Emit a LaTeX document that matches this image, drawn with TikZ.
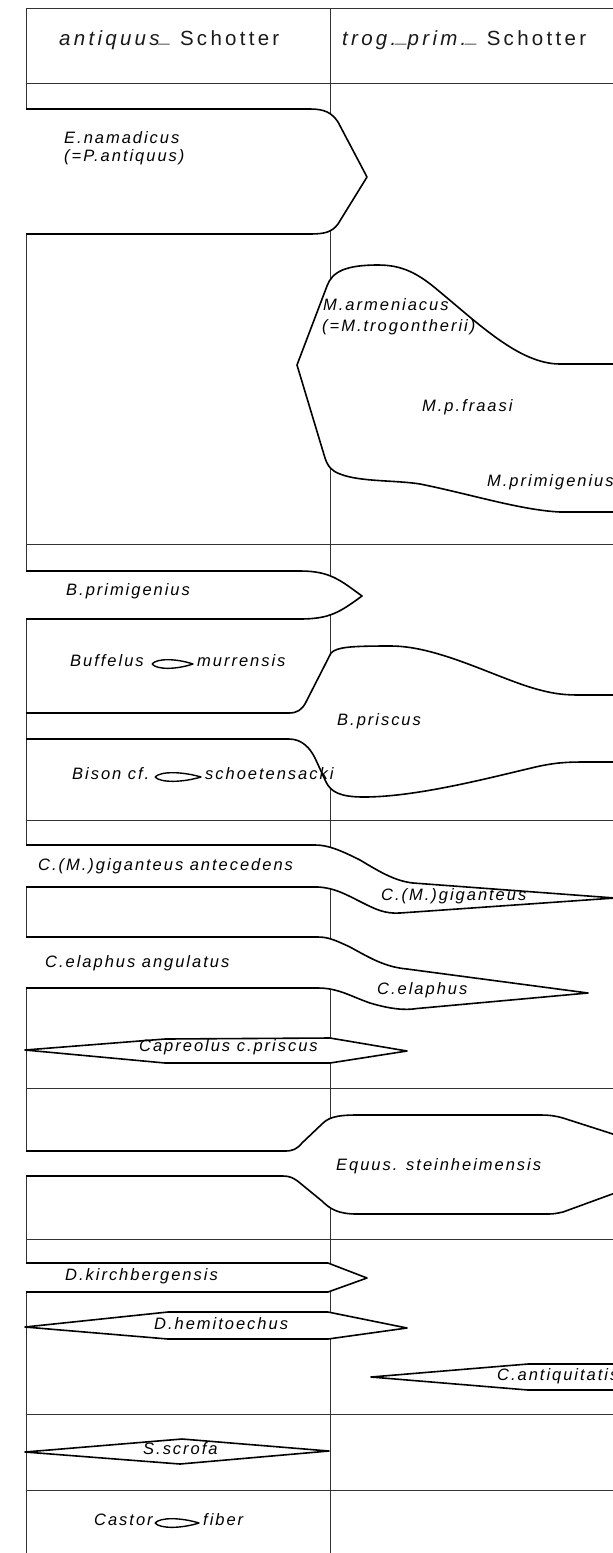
\documentclass[tikz,border=0pt]{standalone}
\usepackage{fontspec}
\newfontfamily\labf[LetterSpace=12]{Liberation Sans}
\newfontfamily\headf[LetterSpace=16]{Liberation Sans}
\newcommand\bandshape[1]{\fill[white] #1 -- cycle; \draw[shp] #1;}
\newcommand\lensmark[4]{\draw[shp,line width=1.4pt] (#1,#3) .. controls ({#1+0.12*(#2-#1)},{#3-6}) and ({#1+0.6*(#2-#1)},{#3-5.5}) .. (#2,#3) .. controls ({#1+0.6*(#2-#1)},{#3+5.5}) and ({#1+0.12*(#2-#1)},{#3+6}) .. (#1,#3) coordinate (#4);}
\begin{document}
\begin{tikzpicture}[x=1pt,y=-1pt,
  gridline/.style={draw=black!80,line width=0.9pt},
  shp/.style={draw=black,line width=1.6pt,line join=round},
  lbl/.style={font=\labf\itshape\fontsize{16.5}{18}\selectfont,anchor=mid west,inner sep=0pt,text=black},
  hdr/.style={font=\headf\fontsize{20.5}{22}\selectfont,anchor=mid west,inner sep=0pt,text=black!90}]
\useasboundingbox (0,0) rectangle (613,1553);
\clip (0,0) rectangle (613,1553);
% grid
\foreach \yy in {8,83,544,820,1088,1239,1414,1490} {\draw[gridline] (26,\yy) -- (620,\yy);}
\draw[gridline] (26,8) -- (26,1560);
\draw[gridline] (330,8) -- (330,1560);
% E. namadicus
\bandshape{(26,109) -- (310,109) .. controls (325,109) and (332,113) .. (338,122) -- (367,177) -- (338,224) .. controls (332,232) and (325,234) .. (310,234) -- (26,234)}
% Mammoth
\draw[shp,fill=white] (297,365) -- (327,286) .. controls (332,272) and (345,265) .. (378,265) .. controls (402,265) and (418,273) .. (440,292) .. controls (480,325) and (520,364) .. (560,364) -- (650,364) -- (650,512) -- (560,512) .. controls (520,510) and (470,494) .. (420,484) .. controls (395,480) and (360,482) .. (340,474) .. controls (332,471) and (328,467) .. (325,458) -- cycle;
% B. primigenius
\bandshape{(26,571) -- (300,571) .. controls (330,571) and (340,580) .. (362,596) .. controls (340,612) and (330,619) .. (300,619) -- (26,619)}
% B. priscus complex
\fill[white] (331,653) .. controls (337,647) and (350,646) .. (391,646) .. controls (440,646) and (500,680) .. (540,690) .. controls (555,694) and (565,695) .. (580,695) -- (650,695) -- (650,762) -- (590,762) .. controls (570,762) and (560,762) .. (540,766) .. controls (500,775) and (420,797) .. (364,797) .. controls (340,797) and (331,792) .. (326,782) -- (306,702) -- cycle;
\draw[shp] (650,695) -- (580,695) .. controls (565,695) and (555,694) .. (540,690) .. controls (500,680) and (440,646) .. (391,646) .. controls (350,646) and (337,647) .. (331,653) -- (306,702) .. controls (302,710) and (297,713) .. (289,713) -- (26,713);
\draw[shp] (26,739) -- (289,739) .. controls (302,739) and (310,748) .. (315,758) -- (326,782) .. controls (331,792) and (340,797) .. (364,797) .. controls (420,797) and (500,775) .. (540,766) .. controls (560,762) and (570,762) .. (590,762) -- (650,762);
% C. (M.) giganteus
\bandshape{(26,845) -- (315,845) .. controls (328,845) and (340,850) .. (360,860) .. controls (380,872) and (395,881) .. (413,883) -- (615,898) -- (400,913) .. controls (385,914) and (375,909) .. (363,903) .. controls (345,894) and (335,888) .. (318,887) -- (26,887)}
% C. elaphus
\bandshape{(26,937) -- (318,937) .. controls (328,937) and (335,940) .. (350,947) .. controls (370,958) and (385,967) .. (407,969) -- (588,993) -- (417,1008.5) .. controls (405,1010.5) and (390,1009) .. (370,1003) .. controls (350,996) and (338,988) .. (318,988) -- (26,988)}
% Capreolus
\draw[shp,fill=white] (25,1050) -- (165,1039) -- (330,1038) -- (407,1051) -- (330,1063) -- (165,1063) -- cycle;
% Equus
\bandshape{(26,1151) -- (285,1151) .. controls (293,1151) and (297,1149) .. (302,1143) -- (322,1124) .. controls (328,1118) and (335,1115) .. (357,1115) -- (540,1115) .. controls (550,1115) and (556,1116) .. (563,1118) -- (700,1162) -- (563,1212) .. controls (558,1213) and (555,1214) .. (548,1214) -- (357,1214) .. controls (338,1214) and (330,1209) .. (322,1201) -- (300,1183) .. controls (294,1178) and (290,1176) .. (283,1176) -- (26,1176)}
% D. kirchbergensis
\bandshape{(26,1263) -- (328,1263) -- (367,1278) -- (328,1292) -- (26,1292)}
% D. hemitoechus
\draw[shp,fill=white] (25,1327) -- (168,1312) -- (328,1312) -- (407,1328) -- (328,1339) -- (168,1339) -- cycle;
% C. antiquitatis
\draw[shp,fill=white] (371,1377) -- (528,1364) -- (650,1364) -- (650,1390) -- (528,1390) -- cycle;
% S. scrofa
\draw[shp,fill=white] (25,1452) -- (182,1439) -- (329,1451) -- (180,1464) -- cycle;
% lens marks
\lensmark{152}{193}{664}{lensA}
\lensmark{155}{201}{777}{lensB}
\lensmark{155}{199}{1523}{lensC}
% headers
\node[hdr] (h1) at (59,43) {\itshape antiquus\raisebox{0.2ex}{\_}\upshape\ Schotter};
\node[hdr] (h2) at (342,43) {\itshape trog.\raisebox{0.2ex}{\_}prim.\raisebox{0.2ex}{\_}\upshape\ Schotter};
% labels
\node[lbl] (en1) at (64,141) {E.namadicus};
\node[lbl] (en2) at (64,159) {(=P.antiquus)};
\node[lbl] (ma1) at (323,308) {M.armeniacus};
\node[lbl] (ma2) at (322,329) {(=M.trogontherii)};
\node[lbl] (mf) at (422,409) {M.p.fraasi};
\node[lbl] (mp) at (487,484) {M.primigenius};
\node[lbl] (bp) at (66,593) {B.primigenius};
\node[lbl] (bu1) at (70,664) {Buffelus};
\node[lbl] (bu2) at (197,664) {murrensis};
\node[lbl] (bpr) at (337,723) {B.priscus};
\node[lbl] (bi1) at (72,777) {Bison cf.};
\node[lbl] (bi2) at (205,777) {schoetensacki};
\node[lbl] (cga) at (38,868) {C.(M.)giganteus antecedens};
\node[lbl] (cg) at (381,898) {C.(M.)giganteus};
\node[lbl] (cea) at (45,965) {C.elaphus angulatus};
\node[lbl] (ce) at (377,992) {C.elaphus};
\node[lbl] (cap) at (139,1049) {Capreolus c.priscus};
\node[lbl] (eq) at (336,1168) {Equus. steinheimensis};
\node[lbl] (dk) at (65,1278) {D.kirchbergensis};
\node[lbl] (dh) at (154,1327) {D.hemitoechus};
\node[lbl] (ca) at (497,1378) {C.antiquitatis};
\node[lbl] (ss) at (143,1452) {S.scrofa};
\node[lbl] (cs1) at (94,1523) {Castor};
\node[lbl] (cs2) at (203,1523) {fiber};
\end{tikzpicture}
\end{document}
